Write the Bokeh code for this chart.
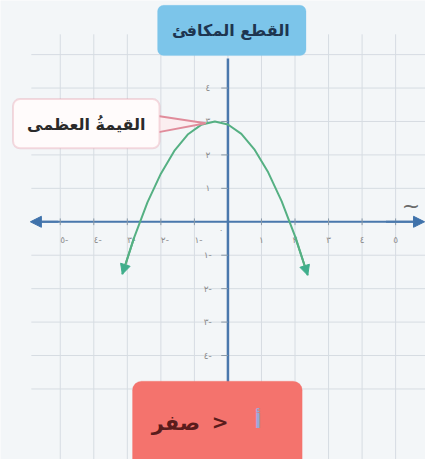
from bokeh.plotting import figure
from bokeh.models import Range1d, BoxAnnotation, Label, Arrow, NormalHead
from bokeh.core.properties import value
from bokeh.embed import file_html
from bokeh.resources import INLINE

# ---------------- data ----------------
x_ticks = [-5, -4, -3, -2, -1, 1, 2, 3, 4, 5]
x_tick_labels = ["٥-", "٤-", "٣-", "٢-", "١-", "١", "٢", "٣", "٤", "٥"]
y_ticks = [-4, -3, -2, -1, 1, 2, 3, 4]
y_tick_labels = ["٤-", "٣-", "٢-", "١-", "١", "٢", "٣", "٤"]
grid_x = [-5, -4, -3, -2, -1, 0, 1, 2, 3, 4, 5, 6]
grid_y = [-5, -4, -3, -2, -1, 0, 1, 2, 3, 4, 5]

curve_x = [-3.15, -2.8, -2.4, -2.0, -1.6, -1.2, -0.8, -0.39, 0.0, 0.4, 0.8, 1.2, 1.6, 2.0, 2.38]
curve_y = [-1.57, -0.48, 0.58, 1.44, 2.12, 2.61, 2.90, 3.0, 2.91, 2.63, 2.15, 1.48, 0.62, -0.43, -1.60]

title_text = "القطع المكافئ"
callout_text = "القيمةُ العظمى"
cond_a = "أ"
cond_op = ">"
cond_zero = "صفر"
axis_x_name = "~"

# ---------------- geometry helpers (reference px -> data) ----------------
UX, UY = 34.8, 34.6
OX, OY = 236.0, 229.0
def px(v):
    return (v - OX) / UX
def py(v):
    return (OY - v) / UY

W, H = 425, 459
p = figure(width=W, height=H, output_backend="svg", toolbar_location=None,
           x_range=Range1d(px(0), px(441)), y_range=Range1d(py(475), py(0)),
           min_border=0, outline_line_color=None,
           background_fill_color="#f3f6f8", border_fill_color="#f3f6f8")
p.xaxis.visible = False
p.yaxis.visible = False
p.grid.visible = False

FONT = value("DejaVu Sans")

# grid
p.segment(x0=[px(32)] * len(grid_y), x1=[px(470)] * len(grid_y), y0=grid_y, y1=grid_y,
          line_color="#d6dce2", line_width=1)
p.segment(x0=grid_x, x1=grid_x, y0=[py(35)] * len(grid_x), y1=[py(490)] * len(grid_x),
          line_color="#d6dce2", line_width=1)

# axes
p.segment(x0=[0], x1=[0], y0=[py(60)], y1=[py(400)], line_color="#4a78ad", line_width=2.5)
p.segment(x0=[px(40)], x1=[px(430)], y0=[0], y1=[0], line_color="#4a78ad", line_width=2)
p.add_layout(Arrow(x_start=px(60), y_start=0, x_end=px(31), y_end=0,
                   end=NormalHead(size=11, fill_color="#3f72ab", line_color="#3f72ab"),
                   line_color="#4a78ad", line_width=2))
p.add_layout(Arrow(x_start=px(400), y_start=0, x_end=px(440), y_end=0,
                   end=NormalHead(size=11, fill_color="#3f72ab", line_color="#3f72ab"),
                   line_color="#4a78ad", line_width=2))

# tick marks
p.segment(x0=x_ticks, x1=x_ticks, y0=[-0.1] * len(x_ticks), y1=[0.1] * len(x_ticks),
          line_color="#8a9aa8", line_width=1)
p.segment(x0=[-0.2] * len(y_ticks), x1=[0] * len(y_ticks), y0=y_ticks, y1=y_ticks,
          line_color="#8a9aa8", line_width=1)

# tick labels
p.text(x=[t + 0.12 if t < 0 else t for t in x_ticks], y=[py(248)] * len(x_ticks),
       text=x_tick_labels, text_font=FONT, text_font_size="9px", text_color="#8c8c8c",
       text_align="center", text_baseline="middle")
p.text(x=[-0.6] * len(y_ticks), y=y_ticks, text=y_tick_labels, text_font=FONT,
       text_font_size="9px", text_color="#8c8c8c", text_align="center", text_baseline="middle")
p.text(x=[-0.2], y=[-0.25], text=["٠"], text_font=FONT, text_font_size="8px",
       text_color="#8c8c8c", text_align="center", text_baseline="middle")

# x-axis name
p.text(x=[px(426)], y=[py(212)], text=[axis_x_name], text_font=FONT, text_font_size="22px",
       text_color="#6a6a6a", text_align="center", text_baseline="middle")

# parabola
GREEN = "#55b083"
p.line(curve_x, curve_y, line_color=GREEN, line_width=2)
p.add_layout(Arrow(x_start=curve_x[1], y_start=curve_y[1], x_end=curve_x[0], y_end=curve_y[0],
                   end=NormalHead(size=10, fill_color="#3fae8c", line_color="#3fae8c"),
                   line_color=GREEN, line_width=2))
p.add_layout(Arrow(x_start=curve_x[-2], y_start=curve_y[-2], x_end=curve_x[-1], y_end=curve_y[-1],
                   end=NormalHead(size=10, fill_color="#3fae8c", line_color="#3fae8c"),
                   line_color=GREEN, line_width=2))

# callout pointer
p.patch(x=[px(160), px(213), px(160)], y=[py(119), py(127), py(137)],
        fill_color="#fbeef0", line_color="#e08c9b", line_width=2)

# boxes
p.add_layout(BoxAnnotation(left=px(163), right=px(317), top=py(5), bottom=py(57),
                           fill_color="#7cc5ea", fill_alpha=1, line_color="#7cc5ea",
                           border_radius=6))
p.add_layout(BoxAnnotation(left=px(13), right=px(165), top=py(102), bottom=py(153),
                           fill_color="#fffbfb", fill_alpha=1, line_color="#e08c9b",
                           line_width=2, border_radius=7))
p.add_layout(BoxAnnotation(left=px(137), right=px(313), top=py(394), bottom=py(500),
                           fill_color="#f4736d", fill_alpha=1, line_color="#f4736d",
                           border_radius=9))

# box texts
p.add_layout(Label(x=px(239), y=py(31), text=title_text, text_font="DejaVu Sans",
                   text_font_style="bold", text_font_size="16px", text_color="#1e3550",
                   text_align="center", text_baseline="middle"))
p.add_layout(Label(x=px(89), y=py(128), text=callout_text, text_font="DejaVu Sans",
                   text_font_style="bold", text_font_size="16px", text_color="#2a2a2a",
                   text_align="center", text_baseline="middle"))
p.add_layout(Label(x=px(182), y=py(437), text=cond_zero, text_font="DejaVu Sans",
                   text_font_style="bold", text_font_size="21px", text_color="#5a1c1c",
                   text_align="center", text_baseline="middle"))
p.add_layout(Label(x=px(228), y=py(436), text=cond_op, text_font="DejaVu Sans",
                   text_font_style="bold", text_font_size="20px", text_color="#5a1c1c",
                   text_align="center", text_baseline="middle"))
p.add_layout(Label(x=px(267), y=py(435), text=cond_a, text_font="DejaVu Sans",
                   text_font_style="bold", text_font_size="20px", text_color="#9aa8d8",
                   text_align="center", text_baseline="middle"))

open("out.html", "w").write(file_html(p, INLINE))
